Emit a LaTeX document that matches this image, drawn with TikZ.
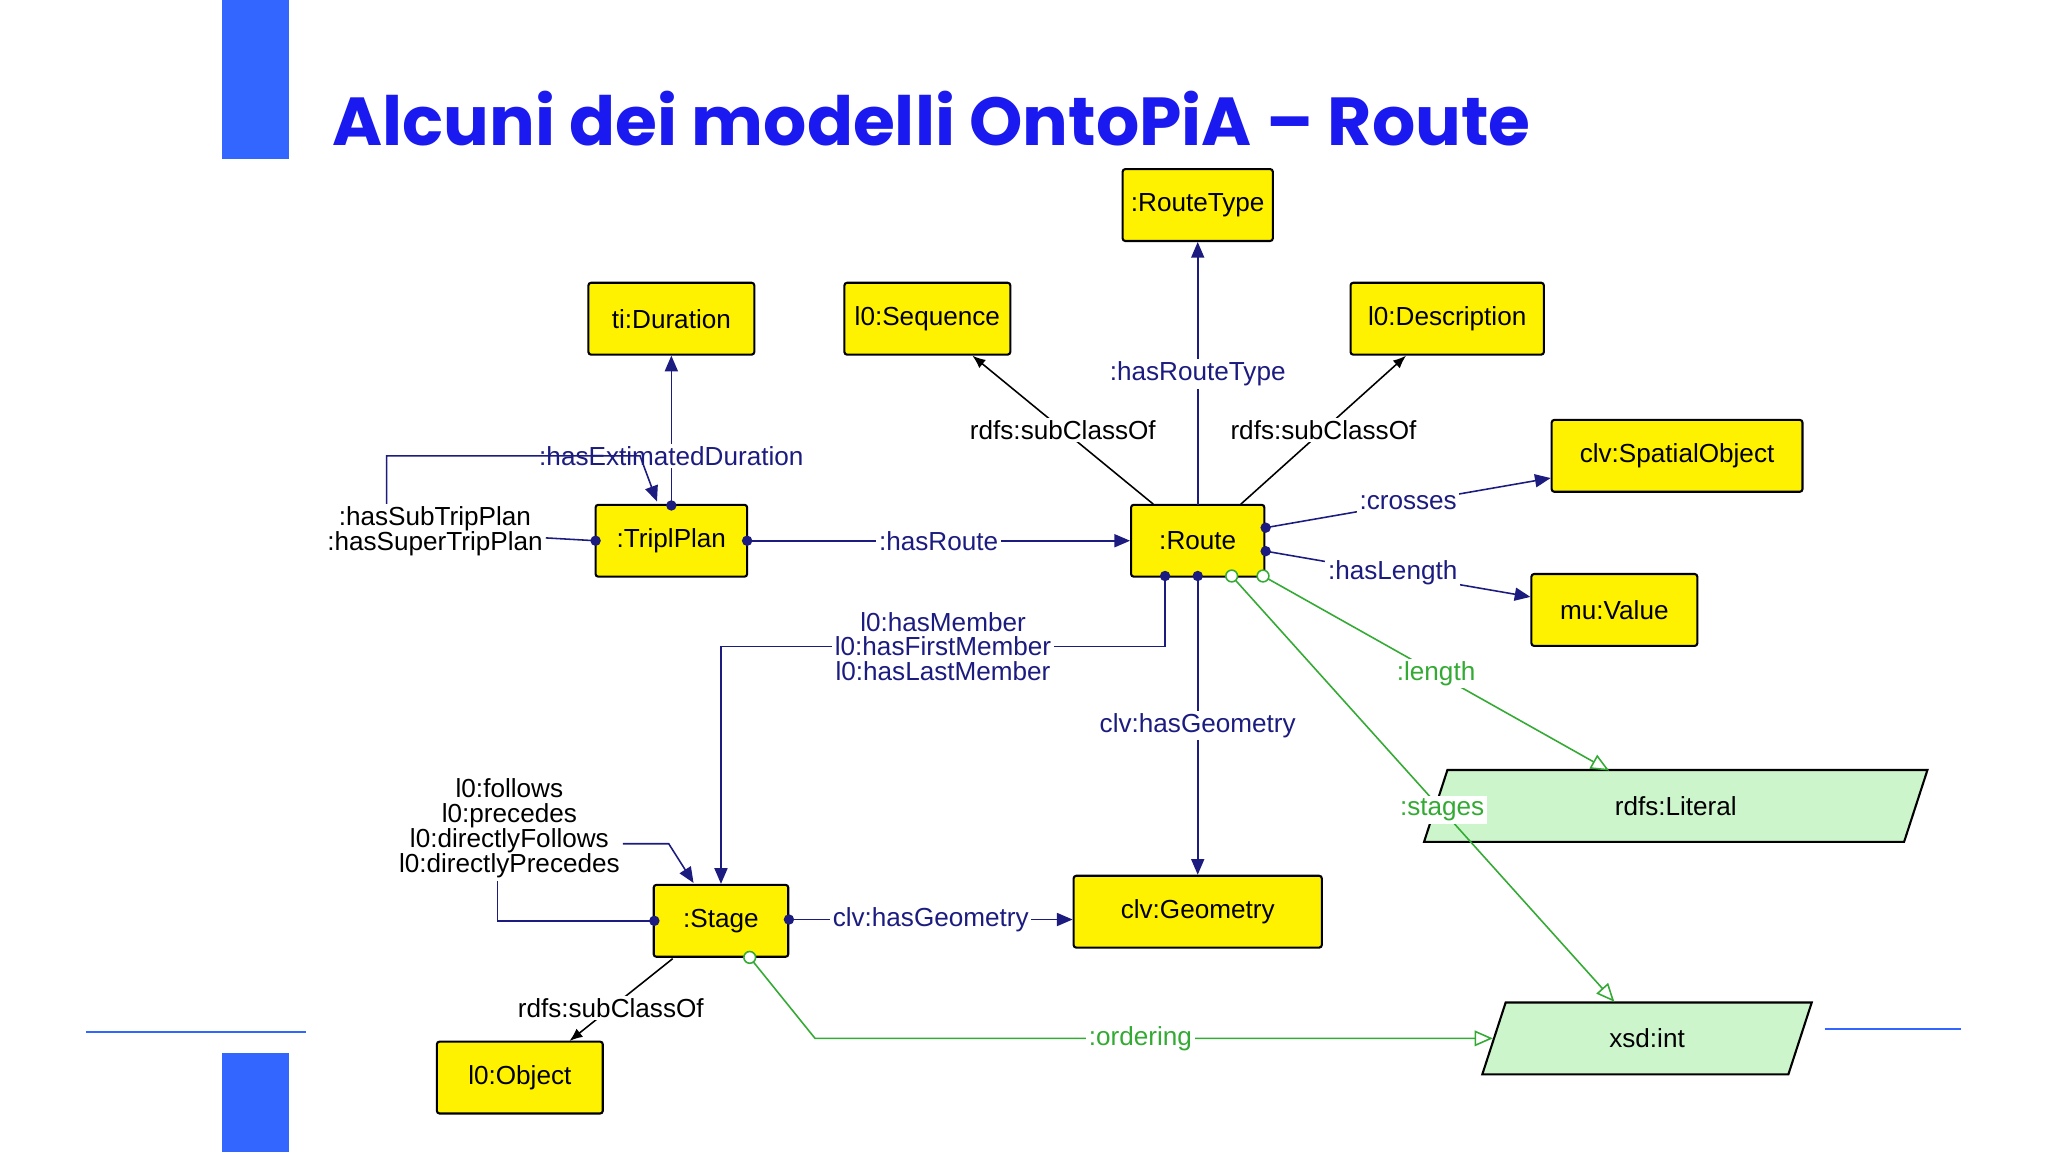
\documentclass[tikz,border=0pt]{standalone}
\usepackage{fontspec}
\setmainfont{Liberation Sans}
\newfontfamily\titlefont{Poppins}
\usetikzlibrary{arrows.meta,shapes.geometric}
\definecolor{navy}{HTML}{1C1C80}
\definecolor{tblue}{HTML}{1A1AF0}
\definecolor{bblue}{HTML}{3366FF}
\definecolor{gfill}{HTML}{CCF5CC}
\definecolor{gline}{HTML}{33AA33}
\tikzset{
  cls/.style={draw=black,line width=0.8pt,fill=yellow,rounded corners=1pt,minimum height=27.5pt,inner sep=0pt,font=\fontsize{10}{12}\selectfont},
  lit/.style={draw=black,line width=0.8pt,fill=gfill,trapezium,trapezium left angle=72,trapezium right angle=108,minimum height=27.5pt,inner sep=0pt,font=\fontsize{10}{12}\selectfont},
  lbl/.style={fill=white,inner sep=1pt,font=\fontsize{10}{11.5}\selectfont,align=center},
  nav/.style={navy,line width=0.6pt,-{Triangle[length=6pt,width=5pt]}},
  sub/.style={black,line width=0.6pt,-{Latex[length=5pt,width=4pt]}},
  grn/.style={gline,line width=0.6pt,-{Triangle[open,length=7pt,width=6pt,fill=white]}},
  dot/.style={circle,fill=navy,inner sep=0pt,minimum size=4pt},
  odot/.style={circle,draw=gline,fill=white,inner sep=0pt,minimum size=4.5pt,line width=0.6pt},
}
\begin{document}
\begin{tikzpicture}[x=0.5pt,y=-0.5pt]
\useasboundingbox (0,0) rectangle (1568,882);
\fill[white] (0,0) rectangle (1568,882);
\fill[bblue] (170,0) rectangle (221,122);
\fill[bblue] (170,806) rectangle (221,882);
\draw[bblue,line width=0.6pt] (66,790) -- (234,790);
\draw[bblue,line width=0.6pt] (1397,788) -- (1501,788);
\node[anchor=west,text=tblue,font=\titlefont\bfseries\fontsize{26}{30}\selectfont,inner sep=0pt] (title) at (254,91) {Alcuni dei modelli OntoPiA – Route};

% classes
\node[cls,minimum width=57.5pt] (rt) at (917,157) {:RouteType};
\node[cls,minimum width=63.5pt] (dur) at (514,244) {ti:Duration};
\node[cls,minimum width=63.5pt] (seq) at (710,244) {l0:Sequence};
\node[cls,minimum width=74pt] (desc) at (1108,244) {l0:Description};
\node[cls,minimum width=96pt] (spo) at (1284,349) {clv:SpatialObject};
\node[cls,minimum width=58pt] (tp) at (514,414) {:TriplPlan};
\node[cls,minimum width=51pt] (route) at (917,414) {:Route};
\node[cls,minimum width=63.5pt] (mu) at (1236,467) {mu:Value};
\node[lit,minimum width=62pt] (rl) at (1283,617) {rdfs:Literal};
\node[cls,minimum width=95pt] (geo) at (917,698) {clv:Geometry};
\node[cls,minimum width=51.5pt] (stage) at (552,705) {:Stage};
\node[lit,minimum width=62pt] (xi) at (1261,795) {xsd:int};
\node[cls,minimum width=63.5pt] (obj) at (398,825) {l0:Object};

% coordinates
\coordinate (rtop) at (917,387);
\coordinate (tptop) at (514,387);
\coordinate (tpr) at (572,414);
\coordinate (tpl) at (456,414);
\coordinate (rs1) at (883,386);
\coordinate (rs2) at (950,386);
\coordinate (rr1) at (969,404);
\coordinate (rr2) at (969,422);
\coordinate (rg1) at (967,441);
\coordinate (rg2) at (943,441);
\coordinate (rb1) at (917,441);
\coordinate (rb2) at (892,441);
\coordinate (sl) at (501,705);
\coordinate (sr) at (604,704);
\coordinate (sb) at (515,734);
\coordinate (sg) at (574,733);

\draw[nav] (rtop) -- node[lbl,pos=0.5]{:hasRouteType} (rt);
\draw[nav] (tptop) -- node[lbl,pos=0.33]{:hasExtimatedDuration} (dur);
\draw[nav] (tpr) -- node[lbl]{:hasRoute} (route);
\node[lbl] (tplab) at (333,407) {:hasSubTripPlan\\[-2pt]:hasSuperTripPlan};
\draw[navy,line width=0.6pt] (tpl) -- (tplab);
\draw[nav] (tplab.north -| 296,0) -- (296,349) -- (490,349) -- (503,384);
\draw[sub] (rs1) -- node[lbl,pos=0.5]{rdfs:subClassOf} (seq);
\draw[sub] (rs2) -- node[lbl,pos=0.5]{rdfs:subClassOf} (desc);
\draw[nav] (rr1) -- node[lbl]{:crosses} (spo.west |- 0,366);
\draw[nav] (rr2) -- node[lbl,pos=0.48]{:hasLength} (mu.west |- 0,457);
\draw[grn] (rg1) -- node[lbl,text=gline,pos=0.5]{:length} (1232,590);
\draw[grn] (rg2) -- node[lbl,text=gline,pos=0.55]{:stages} (1236,767);
\draw[nav] (rb1) -- node[lbl,pos=0.5]{clv:hasGeometry} (geo);
\draw[nav] (rb2) -- (892,495) -- node[lbl]{l0:hasMember\\[-2pt]l0:hasFirstMember\\[-2pt]l0:hasLastMember} (552,495) -- (stage);
\node[lbl] (stlab) at (390,634) {l0:follows\\[-2pt]l0:precedes\\[-2pt]l0:directlyFollows\\[-2pt]l0:directlyPrecedes};
\draw[navy,line width=0.6pt] (sl) -- (381,705) -- (stlab.south -| 381,0);
\draw[nav] (stlab.east |- 0,646) -- (512,646) -- (531,676);
\draw[nav] (sr) -- node[lbl]{clv:hasGeometry} (geo.west |- sr);
\draw[sub] (sb) -- node[lbl,pos=0.6]{rdfs:subClassOf} (436,797);
\draw[grn] (sg) -- (624,795) -- node[lbl,text=gline,pos=0.48]{:ordering} (xi.west |- 0,795);

\foreach \p in {tptop,tpr,tpl,rr1,rr2,rb1,rb2,sl,sr} \node[dot] at (\p) {};
\foreach \p in {rg1,rg2,sg} \node[odot] at (\p) {};
\end{tikzpicture}
\end{document}
